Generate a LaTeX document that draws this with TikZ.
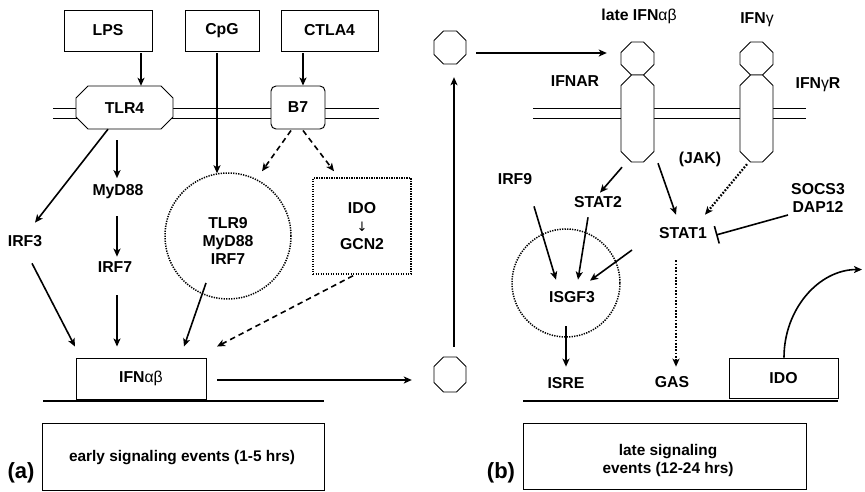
\documentclass[tikz,border=0pt]{standalone}
\usepackage{fontspec}
\setmainfont{Liberation Sans}
\newfontfamily\symf{DejaVu Sans}
\usetikzlibrary{arrows.meta,calc}
\newcommand\octa[5]{\draw[oct] ({#1+#5},#2) -- ({#3-#5},#2) -- (#3,{#2+#5}) -- (#3,{#4-#5}) -- ({#3-#5},#4) -- ({#1+#5},#4) -- (#1,{#4-#5}) -- (#1,{#2+#5}) -- cycle;}
\begin{document}
\begin{tikzpicture}[x=1pt,y=-1pt,
 tf/.style={font=\bfseries\fontsize{15.8}{18}\selectfont},
 lbl/.style={tf, inner sep=0pt, text height=11.3pt, text depth=0pt},
 mlbl/.style={tf, inner sep=0pt, align=center},
 box/.style={draw, line width=0.95pt, fill=white, inner sep=0pt},
 hole/.style={inner sep=0pt, draw=none},
 arr/.style={line width=1.6pt, -{Stealth[length=8pt,width=7pt,inset=2pt]}},
 darr/.style={arr, dash pattern=on 5.5pt off 4pt},
 dotarr/.style={arr, line width=2.2pt, dash pattern=on 1.7pt off 1.6pt},
 dotshape/.style={draw, line width=1.5pt, dash pattern=on 1.3pt off 1.2pt},
 memb/.style={line width=0.95pt},
 oct/.style={line width=0.95pt, fill=white},
 base/.style={line width=1.8pt},
 panel/.style={font=\bfseries\fontsize{22}{24}\selectfont, inner sep=0pt},
 btxt/.style={font=\bfseries\fontsize{15.4}{18}\selectfont, align=center, inner sep=0pt},
]
\useasboundingbox (0,0) rectangle (865,491);

% membranes
\draw[memb] (53,108) -- (379,108) (53,118) -- (379,118);
\draw[memb] (533,108) -- (806,108) (533,118) -- (806,118);

% octagonal shapes
\octa{76}{86}{173}{129}{12}
\octa{621}{42}{654}{75}{10.5}
\octa{621}{75}{654}{162}{10.5}
\octa{740}{42}{773}{75}{10.5}
\octa{740}{75}{773}{162}{10.5}
\octa{434}{357}{466}{392}{9.5}
\octa{434}{31}{466}{64}{9.5}

% nodes (left panel)
\node[box, tf, minimum width=88pt, minimum height=41pt] (lps) at (108,30.5) {LPS};
\node[box, tf, minimum width=74pt, minimum height=41pt] (cpg) at (222,30.5) {CpG};
\node[box, tf, minimum width=97pt, minimum height=41pt] (ctla) at (329.5,30.5) {CTLA4};
\node[lbl, minimum width=97pt, minimum height=43pt] (tlr4) at (124.5,107.5) {TLR4};
\node[box, tf, rounded corners=5pt, minimum width=54pt, minimum height=43pt] (b7) at (298,107.5) {B7};
\node[lbl] (myd88) at (118,190) {MyD88};
\node[lbl] (irf3) at (25,241) {IRF3};
\node[lbl] (irf7) at (115,267) {IRF7};
\node[dotshape, circle, minimum size=126pt, inner sep=0pt] (circ) at (228,236) {};
\node[mlbl] (tlr9) at (228,241) {TLR9\\MyD88\\IRF7};
\node[dotshape, minimum width=98pt, minimum height=96pt, inner sep=0pt] (idobox) at (362,226) {};
\node[mlbl] (idotxt) at (362,226.5) {IDO\\{\symf\mdseries\fontsize{13}{18}\selectfont ↓}\\GCN2};
\node[box, tf, minimum width=130pt, minimum height=41pt] (ifn) at (141,378.5) {IFN{\mdseries αβ}};

% nodes (middle)
\node[hole, minimum width=32pt, minimum height=35pt] (oct1) at (450,374.5) {};
\node[hole, minimum width=32pt, minimum height=33pt] (oct2) at (450,47.5) {};

% nodes (right panel)
\node[hole, minimum width=33pt, minimum height=33pt] (ifnarh) at (637.5,58.5) {};
\node[hole, minimum width=33pt, minimum height=87pt] (ifnarb) at (637.5,118.5) {};
\node[hole, minimum width=33pt, minimum height=33pt] (ifngrh) at (756.5,58.5) {};
\node[hole, minimum width=33pt, minimum height=87pt] (ifngrb) at (756.5,118.5) {};
\node[lbl] (lateifn) at (639,15) {late IFN{\mdseries αβ}};
\node[lbl] (ifng) at (757,18) {IFN{\mdseries γ}};
\node[lbl] (ifnarl) at (575,81) {IFNAR};
\node[lbl] (ifngrl) at (818,83) {IFN{\mdseries γ}R};
\node[lbl] (jak) at (700,158) {(JAK)};
\node[lbl] (irf9) at (515,179) {IRF9};
\node[lbl] (stat2) at (598,202) {STAT2};
\node[lbl] (stat1) at (683,233) {STAT1};
\node[mlbl] (socs) at (818,197.5) {SOCS3\\DAP12};
\node[dotshape, circle, minimum size=108pt, inner sep=0pt] (isgcirc) at (566,283) {};
\node[lbl] (isgf3) at (572,297) {ISGF3};
\node[lbl] (isre) at (566,383) {ISRE};
\node[lbl] (gas) at (672,382) {GAS};
\node[box, tf, minimum width=109pt, minimum height=40pt] (ido2) at (783.5,378) {IDO};
\coordinate (j3) at (632,250);

% base lines and bottom boxes
\draw[base] (43,401) -- (324,401);
\draw[base] (523,401) -- (838,401);
\node[box, minimum width=282pt, minimum height=67pt] (eb) at (183,456.5) {};
\node[btxt] (ebt) at (182,458) {early signaling events (1-5 hrs)};
\node[box, minimum width=283pt, minimum height=66pt] (lb) at (664.5,456) {};
\node[btxt] (lbt) at (668,461) {late signaling\\events (12-24 hrs)};
\node[panel] (pa) at (21,473) {(a)};
\node[panel] (pb) at (501,473) {(b)};

% connectors, left panel
\draw[arr] ($(lps.south)+(33,2)$) -- ($(tlr4.north)+(16.5,0)$);
\draw[arr] ($(cpg.south)+(-5,2)$) -- ($(circ.north)+(-11,1)$);
\draw[arr] ($(ctla.south)+(-26.5,2)$) -- ($(b7.north)+(5,0)$);
\draw[arr] ($(tlr4.south)+(-16.5,0)$) -- ($(irf3.north)+(10,-12.5)$);
\draw[arr] ($(tlr4.south)+(-7.5,11)$) -- ($(myd88.north)+(-1,-6)$);
\draw[arr] ($(myd88.south)+(-1,20.5)$) -- ($(irf7.north)+(2,-4.5)$);
\draw[arr] ($(irf7.south)+(2,22.5)$) -- ($(ifn.north)+(-24,-11)$);
\draw[arr] ($(irf3.south)+(7,16.5)$) -- ($(ifn.north)+(-66,-11)$);
\draw[arr] ($(circ.center)+(-22,47)$) -- ($(ifn.north)+(43,-11)$);
\draw[darr] ($(idobox.south)+(-9,1)$) -- ($(ifn.north)+(76,-11)$);
\draw[darr] ($(b7.south)+(-7,1)$) -- ($(circ.north)+(34,-1)$);
\draw[darr] ($(b7.south)+(5,1)$) -- ($(idobox.north)+(-28,-6)$);

% connectors, middle
\draw[arr] ($(ifn.east)+(11,1.5)$) -- ($(oct1.west)+(-22,5.5)$);
\draw[arr] ($(oct1.north)+(4,-10)$) -- ($(oct2.south)+(4,13)$);
\draw[arr] ($(oct2.east)+(10,5.5)$) -- ($(ifnarh.west)+(-14,-5.5)$);

% connectors, right panel
\draw[arr] ($(ifnarb.south)+(-15.5,5)$) -- ($(stat2.north)+(2,-3.5)$);
\draw[arr] ($(ifnarb.south)+(20.5,1)$) -- ($(stat1.north)+(-7,-12.5)$);
\draw[dotarr] ($(ifngrb.south)+(-9.5,2)$) -- ($(stat1.north)+(22,-12.5)$);
\draw[line width=1.6pt, -{Bar[width=18pt]}] ($(socs.center)+(-30,17.5)$) -- ($(stat1.east)+(9,2)$);
\draw[arr] ($(irf9.south)+(19,21.5)$) -- ($(isgf3.north)+(-16,-11.5)$);
\draw[arr] ($(stat2.south)+(-10,9.5)$) -- ($(isgf3.north)+(6,-11.5)$);
\draw[arr] (j3) -- ($(isgf3.north)+(18,-10.5)$);
\draw[arr] ($(isgf3.south)+(-6,23.5)$) -- ($(isre.north)+(0,-10.5)$);
\draw[dotarr] ($(stat1.south)+(-7,21.5)$) -- ($(gas.north)+(4,-9.5)$);
\draw[arr] ($(ido2.north)+(0.5,0)$) arc[start angle=180, end angle=270, x radius=78, y radius=88];
\end{tikzpicture}
\end{document}
